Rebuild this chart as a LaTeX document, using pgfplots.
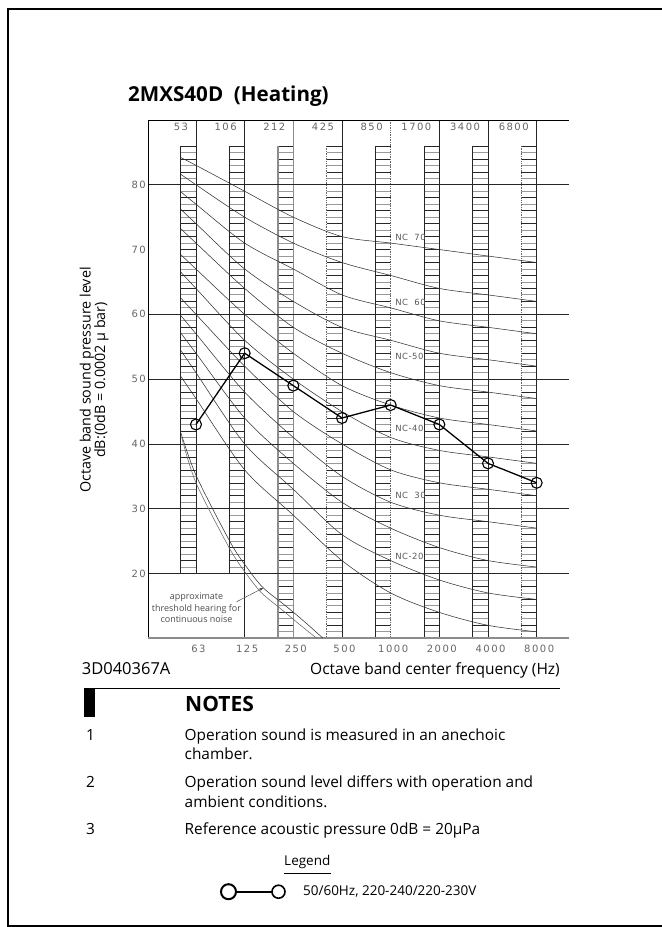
\documentclass[border=0pt]{standalone}
\usepackage{fontspec}
\setmainfont{Open Sans}
\newfontfamily\tickfont[LetterSpace=15]{DejaVu Sans}
\newfontfamily\ncfont[LetterSpace=6]{DejaVu Sans}
\usepackage{pgfplots}
\pgfplotsset{compat=1.18}
\usetikzlibrary{arrows.meta}

\tikzset{
  ladK/.style={black!85, line width=0.7bp},
  ladG/.style={black!45, line width=1.3bp},
  ladD/.style={black!60, line width=0.7bp, densely dotted},
  rungA/.style={black!85, line width=0.55bp},
  rungB/.style={black!40, line width=0.9bp},
}
\pgfplotsset{nc/.style={black!80, line width=0.55bp, smooth, forget plot}}

\begin{document}
\begin{tikzpicture}
\useasboundingbox (0,0) rectangle (662bp,927bp);

% ---- chart grid: ladders, grid lines, frame (data units of the axis)
\begin{scope}[x=48.67bp, y=6.479bp, shift={(196bp,223.9bp)}]
  \foreach \k/\rb/\lb/\bt/\ls/\rs in {0/20/20/20/ladK/ladK, 1/20/20/10/ladK/ladK,
      2/11/10/10/ladG/ladG, 3/11/10/10/ladD/ladK, 4/11/10/10/ladK/ladD,
      5/11/10/10/ladK/ladK, 6/11/10/10/ladK/ladK, 7/11/10/10/ladD/ladK}{
    \foreach \d in {\rb,...,86}{
      \pgfmathtruncatemacro\odd{mod(\d,2)}
      \ifnum\odd=1 \draw[rungB] (\k-0.315,\d) -- (\k,\d);
      \else \draw[rungA] (\k-0.315,\d) -- (\k,\d); \fi
    }
    \draw[\ls] (\k-0.315,86) -- (\k-0.315,\lb);
    \draw[\rs] (\k,90) -- (\k,\bt);
  }
  \foreach \d in {20,30,40,50,60,80}
    \draw[black!85, line width=0.6bp] (-0.986,\d) -- (7.67,\d);
  \draw[black, line width=0.7bp] (-0.986,90) -- (7.67,90);
  \draw[black, line width=0.7bp] (-0.986,90) -- (-0.986,10);
  \draw[black!45, line width=2bp] (-0.986,10) -- (7.67,10);
\end{scope}

\begin{axis}[
  anchor=south west, at={(148bp,288.7bp)},
  x=48.67bp, y=6.479bp,
  xmin=-0.986, xmax=7.67, ymin=10, ymax=90,
  axis line style={draw=none},
  tick style={draw=none},
  major tick length=0pt,
  /pgf/number format/assume math mode=true,
  xtick={0,...,7},
  xticklabels={63,125,250,500,1000,2000,4000,8000},
  ytick={20,30,...,80},
  yticklabels={20,30,40,50,60,70,80},
  xticklabel style={anchor=center, inner sep=0pt, yshift=-10.5bp, xshift=2.5bp,
    font=\tickfont\fontsize{10bp}{12bp}\selectfont, text=black!60},
  yticklabel style={anchor=east, inner sep=0pt, xshift=-2bp,
    font=\tickfont\fontsize{10bp}{12bp}\selectfont, text=black!60},
  legend style={at={(axis description cs:0.1709,-0.4889)}, anchor=west,
    draw=none, fill=none, inner sep=0pt, outer sep=0pt, column sep=0pt,
    nodes={inner sep=0pt}, font=\fontsize{13.5bp}{16bp}\selectfont},
]
% NC curves, NC-15 ... NC-70 (octave index 0 = 63 Hz)
\addplot[nc] coordinates {(-0.31,50.4)(0,47)(1,36)(2,29)(3,22)(4,17)(5,14)(6,12)(7,11)};
\addplot[nc] coordinates {(-0.31,54.4)(0,51)(1,40)(2,33)(3,26)(4,22)(5,19)(6,17)(7,16)};
\addplot[nc] coordinates {(-0.31,57.1)(0,54)(1,44)(2,37)(3,31)(4,27)(5,24)(6,22)(7,21)};
\addplot[nc] coordinates {(-0.31,59.8)(0,57)(1,48)(2,41)(3,35)(4,31)(5,29)(6,28)(7,27)};
\addplot[nc] coordinates {(-0.31,62.5)(0,60)(1,52)(2,45)(3,40)(4,36)(5,34)(6,33)(7,32)};
\addplot[nc] coordinates {(-0.31,66.5)(0,64)(1,56)(2,50)(3,45)(4,41)(5,39)(6,38)(7,37)};
\addplot[nc] coordinates {(-0.31,69.2)(0,67)(1,60)(2,54)(3,49)(4,46)(5,44)(6,43)(7,42)};
\addplot[nc] coordinates {(-0.31,73.2)(0,71)(1,64)(2,58)(3,54)(4,51)(5,49)(6,48)(7,47)};
\addplot[nc] coordinates {(-0.31,76.2)(0,74)(1,67)(2,62)(3,58)(4,56)(5,54)(6,53)(7,52)};
\addplot[nc] coordinates {(-0.31,78.9)(0,77)(1,71)(2,67)(3,63)(4,61)(5,59)(6,58)(7,57)};
\addplot[nc] coordinates {(-0.31,81.6)(0,80)(1,75)(2,71)(3,68)(4,66)(5,64)(6,63)(7,62)};
\addplot[nc] coordinates {(-0.31,84.2)(0,83)(1,79)(2,75)(3,72)(4,71)(5,70)(6,69)(7,68)};
% threshold of hearing
\addplot[nc] coordinates {(-0.31,41.7)(0.01,35)(0.70,24.9)(1.04,21)(1.38,17.8)(1.86,14.9)(2.27,12.3)(2.61,10)};
\addplot[nc, black!60] coordinates {(-0.29,40.9)(0,34)(0.68,24)(1.0,20.3)(1.35,17)(1.8,14.2)(2.15,12)(2.48,10)};
% measured spectrum
\addplot[black, line width=1.3bp, mark=o, mark size=5.5bp,
  mark options={solid, fill=white, line width=1.1bp},
  legend image code/.code={
    \draw[black, line width=1.6bp] (0bp,0bp) -- (50bp,0bp);
    \draw[black, line width=2bp, fill=white] (0bp,0bp) circle (7.5bp);
    \draw[black, line width=1.6bp, fill=white] (50bp,0bp) circle (6.5bp);
    \path (74bp,0bp);
  }]
  coordinates {(0,43)(1,54)(2,49)(3,44)(4,46)(5,43)(6,37)(7,34)};
\addlegendentry{50/60Hz, 220-240/220-230V}
\draw[black!70, line width=0.5bp, -{Stealth[length=4bp,width=3bp]}]
  (axis cs:0.836,15.65) -- (axis cs:1.384,17.78);
\end{axis}

% ---- labels in chart units
\begin{scope}[x=48.67bp, y=6.479bp, shift={(196bp,223.9bp)}]
  \foreach \k/\t in {0/53,1/106,2/212,3/425,4/850,5/1700,6/3400,7/6800}
    \node[anchor=east, inner sep=0pt, font=\tickfont\fontsize{10bp}{12bp}\selectfont, text=black!60]
      at (\k-0.16,89.0) {\t};
  \foreach \v/\t in {71.83/NC\ \ 70, 61.8/NC\ \ 60, 53.57/NC-50, 42.41/NC-40, 32.12/NC\ \ 30, 22.6/NC-20}
    \node[anchor=west, inner sep=0pt, font=\ncfont\fontsize{8.5bp}{10bp}\selectfont, text=black!65]
      at (4.09,\v) {\t};
\end{scope}

% ---- page texts in pixel units (y downward)
\begin{scope}[x=1bp, y=-1bp, shift={(0bp,927bp)}]
  \draw[line width=2.3bp] (664,9) -- (8,9) -- (8,926) -- (664,926);
  \node[anchor=base west, inner sep=0pt, font=\bfseries\fontsize{20.6bp}{24bp}\selectfont]
    at (128,101.7) {2MXS40D\ \ (Heating)};
  \node[rotate=90, anchor=base, inner sep=0pt, font=\fontsize{14.3bp}{16bp}\selectfont]
    at (90.5,380) {Octave band sound pressure level};
  \node[rotate=90, anchor=base, inner sep=0pt, font=\fontsize{14.3bp}{16bp}\selectfont]
    at (105,380) {dB:(0dB = 0.0002 μ bar)};
  \node[align=center, inner sep=0pt, font=\fontsize{9bp}{11.2bp}\selectfont, text=black!70]
    at (196.5,607.8) {approximate\\threshold hearing for\\continuous noise};
  \node[anchor=base west, inner sep=0pt, font=\fontsize{16.5bp}{19bp}\selectfont]
    at (81.7,675) {3D040367A};
  \node[anchor=base east, inner sep=0pt, font=\fontsize{15.5bp}{19bp}\selectfont]
    at (560,675) {Octave band center frequency (Hz)};
  \fill (84,688) rectangle (95,717);
  \draw[line width=1.2bp] (95,688.3) -- (560,688.3);
  \node[anchor=base west, inner sep=0pt, font=\bfseries\fontsize{21bp}{24bp}\selectfont]
    at (185,711.5) {NOTES};
  \begin{scope}[every node/.style={anchor=base west, inner sep=0pt, font=\fontsize{15.4bp}{18bp}\selectfont}]
    \node at (86,741) {1};
    \node at (184.5,741) {Operation sound is measured in an anechoic};
    \node at (184.5,760) {chamber.};
    \node at (86,788) {2};
    \node at (184.5,788) {Operation sound level differs with operation and};
    \node at (184.5,808) {ambient conditions.};
    \node at (86,835) {3};
    \node at (184.5,835) {Reference acoustic pressure 0dB = 20μPa};
  \end{scope}
  \node[anchor=base, inner sep=0pt, font=\fontsize{13.5bp}{16bp}\selectfont]
    at (307.3,866) {Legend};
  \draw[line width=0.8bp] (284,873.3) -- (330.7,873.3);
\end{scope}
\end{tikzpicture}
\end{document}
